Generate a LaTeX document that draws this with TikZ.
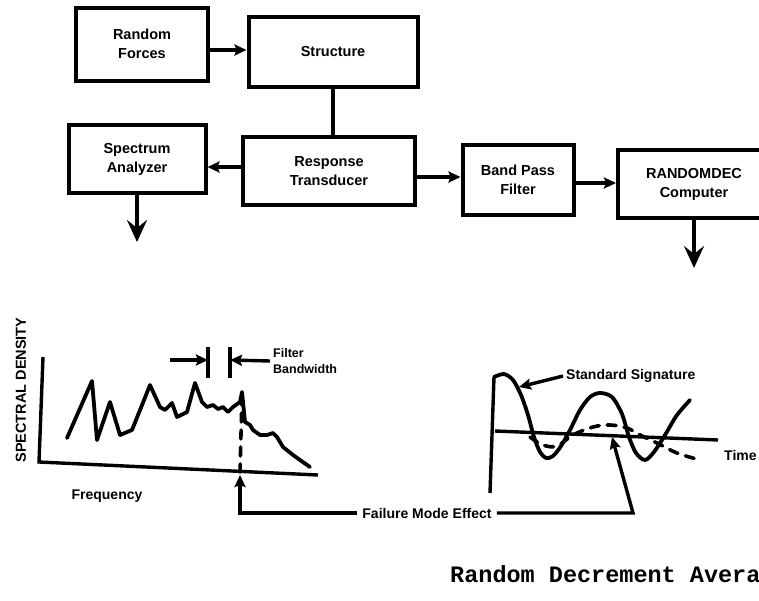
\documentclass[tikz,border=0pt]{standalone}
\usepackage{fontspec}
\setmainfont{Liberation Sans}
\newfontfamily\typefont{Liberation Mono}
\usetikzlibrary{arrows.meta}
\usetikzlibrary{calc}

\tikzset{
    blk/.style={draw, line width=4pt, align=center, inner sep=0pt,
        font=\bfseries\fontsize{14.5}{19}\selectfont},
    arr/.style={line width=3.4pt, -{Stealth[length=12pt, width=11pt, inset=2pt]}},
    bigarr/.style={line width=3.6pt, -{Stealth[length=22pt, width=20pt, inset=8pt]}},
    lbl/.style={inner sep=0pt, font=\bfseries\fontsize{14}{17}\selectfont},
    curve/.style={line width=3.8pt, line join=round, line cap=round},
    dcurve/.style={line width=3.6pt, line cap=round, dash pattern=on 9pt off 8pt},
}

\begin{document}
\begin{tikzpicture}[x=1pt, y=-1pt]
        \useasboundingbox (0,0) rectangle (759,600);
        \clip (0,0) rectangle (759,600);

        % Block diagram
        \node[blk, minimum width=132, minimum height=73] (rf) at (142,44) {Random\\Forces};
        \node[blk, minimum width=169, minimum height=70] (st) at (333,52) {Structure};
        \node[blk, minimum width=137, minimum height=68] (sa) at (137,159) {Spectrum\\Analyzer};
        \node[blk, minimum width=172, minimum height=68] (rt) at (329,171) {Response\\Transducer};
        \node[blk, minimum width=111, minimum height=70] (bp) at (518,180) {Band Pass\\Filter};
        \node[blk, minimum width=152, minimum height=68] (rd) at (694,184) {RANDOMDEC\\Computer};

        % Connections
        \draw[arr] (rf.east |- 0,50) -- (st.west |- 0,50);
        \draw[line width=3.4pt] (st.south) -- (st.south |- rt.north);
        \draw[arr] (rt.west |- 0,167) -- (sa.east |- 0,167);
        \draw[arr] (rt.east |- 0,177) -- (bp.west |- 0,177);
        \draw[arr] (bp.east |- 0,183) -- (rd.west |- 0,183);
        \coordinate (sad) at (137,242);
        \coordinate (rdd) at (693,268);
        \draw[bigarr] (sa.south) -- (sad);
        \draw[bigarr] (rd.south) -- (rd.south |- rdd);

        % Spectrum plot
        \begin{scope}
            \draw[line width=3.4pt] (43,357) -- (39,462) -- (318,475);
            \node[lbl, rotate=90, font=\bfseries\fontsize{14.5}{17}\selectfont] (sd) at (21,390) {SPECTRAL DENSITY};
            \node[lbl] (fq) at (107,496) {Frequency};

            \draw[curve] (67,438) -- (92,381) -- (97,440) -- (110,402) -- (120,435) -- (132,430)
                -- (150,385) -- (160,407) -- (165,410) -- (172,403) -- (177,417) -- (187,412)
                -- (195,383) -- (202,402) -- (207,407) -- (213,405) -- (218,409) -- (223,407)
                -- (228,412) -- (233,407) -- (240,402) -- (242,392) -- (245,422) -- (250,425)
                -- (253,430) -- (260,435) -- (267,435) -- (273,433) -- (277,437) -- (283,447)
                -- (293,455) -- (300,460) -- (310,467);
            \draw[dcurve] (242,396) -- (240,472);

            % Filter bandwidth
            \coordinate (bwl) at (208,360);
            \coordinate (bwr) at (230,360);
            \draw[line width=3.4pt] (208,347) -- (208,378);
            \draw[line width=3.4pt] (230,347) -- (230,378);
            \draw[arr] (170,360) -- (bwl);
            \node[lbl, anchor=west, align=left, font=\bfseries\fontsize{12.5}{16}\selectfont] (fbw) at (273,361) {Filter\\Bandwidth};
            \draw[arr] ([xshift=-3pt]fbw.west) -- (bwr);
        \end{scope}

        % Signature plot
        \begin{scope}
            \draw[line width=3.4pt] (490,493) -- (494,377);
            \draw[line width=3.4pt] (495,431) -- (718,440);
            \draw[curve] plot[smooth, tension=0.5] coordinates {(494,377) (504,374)
                (513,380) (521,395) (528,415) (534,437) (540,452) (546,458) (553,456) (561,446)
                (570,430) (580,410) (590,397) (600,393) (612,397) (622,414) (629,437) (636,453)
                (645,460) (654,452) (665,435) (677,415) (690,400)};
            \draw[dcurve] plot[smooth, tension=0.6] coordinates {(530,437) (543,445) (557,446)
                (573,435) (593,427) (610,425) (627,428) (640,435) (657,443) (677,453) (700,460)};
            \node[lbl, anchor=west] (tm) at (724,455) {Time};
            \node[lbl, anchor=west] (ss) at (566,376) {Standard Signature};
            \coordinate (sst) at (519,387);
            \draw[arr] ([xshift=-3pt]ss.west) -- (sst);
        \end{scope}

        % Failure mode leaders
        \node[lbl] (fme) at (427,513) {Failure Mode Effect};
        \coordinate (fl) at (240,475);
        \coordinate (fr) at (633,518);
        \coordinate (frt) at (612,437);
        \draw[arr] ([xshift=-5pt]fme.west) -| (fl);
        \draw[arr] ([xshift=5pt]fme.east) -- (fme.east -| fr) -- (frt);

        % Caption
        \node[anchor=west, inner sep=0pt, font=\typefont\bfseries\fontsize{23.5}{28}\selectfont] (cap) at (450,574) {Random Decrement Avera};
\end{tikzpicture}
\end{document}
